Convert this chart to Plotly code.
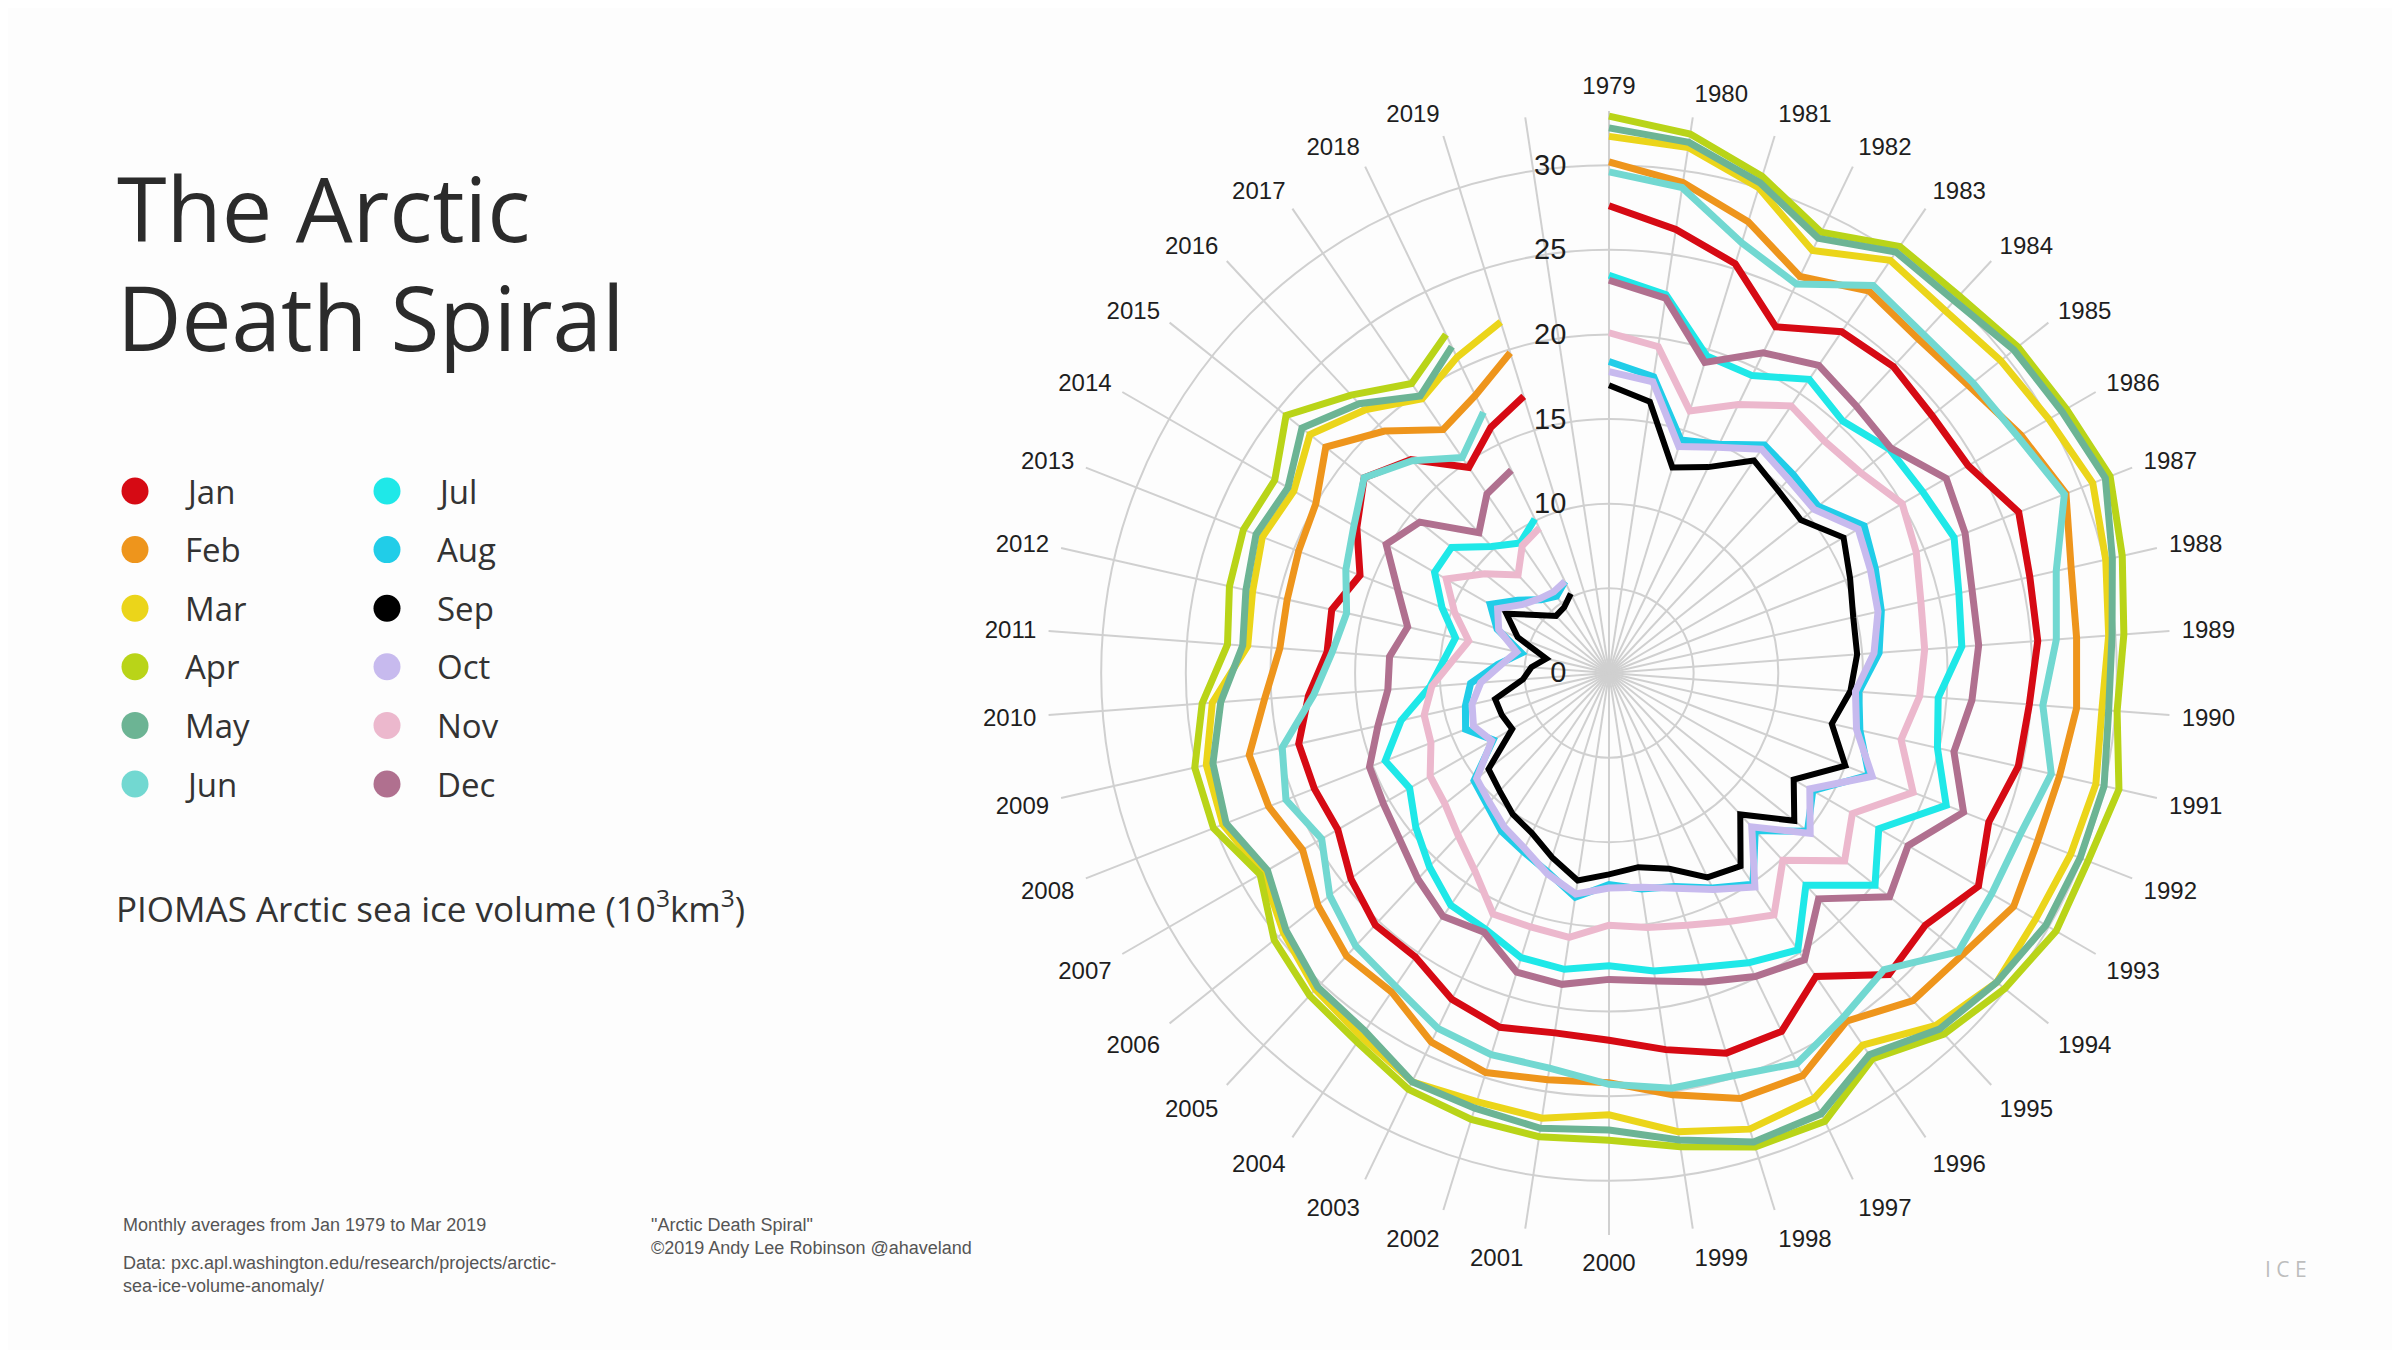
import plotly.graph_objects as go

# PIOMAS Arctic sea ice volume, monthly averages (10^3 km^3)
years = list(range(1979, 2020))

jan = [27.6, 26.5, 25.3, 22.7, 24.4, 24.7, 24.4, 24.5, 26.0, 25.5,
       25.4, 24.9, 24.8, 24.1, 25.2, 23.9, 24.3, 21.7, 23.5, 23.5,
       22.5, 21.7, 21.5, 21.9, 21.4, 20.3, 20.3, 19.5, 18.5, 18.7,
       18.8, 17.8, 16.7, 16.8, 15.8, 17.2, 18.5, 17.2, 14.7, 16.1,
       17.1]
feb = [30.2, 29.3, 27.9, 26.0, 27.3, 26.9, 27.2, 28.1, 29.0, 28.0,
       27.7, 27.7, 27.3, 27.2, 27.6, 26.7, 26.4, 24.9, 26.4, 26.3,
       25.2, 24.2, 24.3, 24.7, 24.2, 22.8, 22.8, 22.0, 20.9, 21.6,
       21.8, 20.4, 19.5, 19.5, 19.7, 20.0, 21.4, 19.5, 17.4, 18.2,
       19.8]
mar = [31.7, 31.4, 30.0, 27.7, 29.5, 29.2, 29.6, 30.0, 30.7, 30.1,
       29.6, 29.2, 29.5, 29.3, 29.1, 29.3, 28.4, 26.6, 27.9, 28.2,
       27.4, 26.1, 26.6, 26.5, 26.8, 26.0, 25.5, 24.6, 23.6, 24.5,
       24.4, 23.5, 21.4, 21.6, 22.0, 21.5, 22.6, 21.2, 19.6, 20.7,
       21.7]
apr = [32.9, 32.2, 30.7, 28.9, 30.5, 30.4, 30.9, 31.2, 31.8, 31.1,
       30.5, 30.1, 30.9, 30.4, 30.5, 29.9, 29.1, 27.6, 29.4, 29.3,
       28.3, 27.6, 27.7, 27.6, 27.3, 26.4, 26.0, 25.3, 23.8, 25.1,
       25.1, 24.1, 22.6, 23.0, 23.2, 22.8, 24.4, 22.4, 20.7, 22.2]
may = [32.2, 31.7, 30.3, 28.5, 30.1, 30.0, 30.6, 30.9, 31.5, 30.5,
       29.8, 29.6, 30.0, 29.9, 29.8, 29.3, 28.7, 27.3, 28.9, 29.0,
       27.9, 27.0, 27.2, 26.9, 26.8, 25.6, 25.3, 24.4, 23.3, 24.3,
       24.0, 23.0, 21.7, 22.0, 22.4, 21.9, 23.2, 21.7, 19.8, 21.4]
jun = [29.6, 29.0, 26.6, 25.5, 27.7, 27.3, 27.5, 27.9, 28.9, 27.1,
       26.5, 25.7, 26.8, 26.1, 26.1, 26.4, 23.9, 24.6, 25.6, 24.9,
       24.8, 24.3, 23.6, 23.6, 23.3, 22.4, 22.0, 21.1, 19.6, 20.5,
       19.8, 17.5, 16.4, 15.9, 16.7, 17.4, 18.5, 17.1, 15.4, 17.1]
jul = [23.5, 22.6, 19.6, 19.5, 21.0, 20.3, 21.2, 21.4, 21.9, 21.2,
       20.9, 19.5, 19.9, 21.4, 18.4, 20.1, 17.1, 19.8, 19.0, 18.2,
       17.8, 17.3, 17.7, 17.6, 16.8, 16.6, 15.6, 14.6, 13.6, 14.2,
       12.6, 10.6, 9.8, 9.3, 10.6, 11.9, 11.9, 10.2, 9.3, 10.1]
aug = [18.4, 17.7, 14.4, 15.0, 16.3, 16.0, 15.8, 17.4, 16.9, 16.5,
       16.0, 14.8, 15.2, 16.5, 13.9, 15.0, 12.7, 15.1, 14.1, 13.2,
       12.9, 12.5, 13.4, 12.3, 11.7, 11.3, 10.6, 10.2, 7.9, 9.1,
       8.7, 8.2, 6.6, 5.3, 7.1, 8.1, 6.9, 5.9, 5.5, 6.0]
sep = [17.0, 16.2, 12.7, 13.5, 15.2, 14.7, 14.5, 16.0, 15.3, 14.8,
       14.7, 14.3, 13.5, 15.0, 12.6, 14.0, 11.4, 13.8, 13.4, 12.1,
       11.6, 11.9, 12.4, 11.4, 10.5, 10.1, 9.5, 9.1, 6.6, 6.8,
       6.9, 5.1, 4.6, 3.8, 5.8, 7.0, 5.5, 4.6, 4.7, 5.2]
oct = [17.8, 17.4, 14.0, 14.8, 16.0, 15.6, 15.5, 17.0, 16.6, 16.3,
       15.7, 14.6, 15.0, 16.7, 13.7, 15.2, 12.4, 15.3, 14.2, 13.3,
       12.8, 12.7, 13.2, 12.4, 11.5, 11.0, 10.4, 10.0, 8.0, 8.6,
       8.3, 7.6, 6.4, 5.6, 7.0, 7.6, 6.5, 6.0, 5.8, 6.0]
nov = [20.1, 19.5, 16.2, 17.6, 19.1, 18.7, 19.0, 20.0, 19.5, 18.9,
       18.7, 18.4, 17.7, 19.3, 16.6, 17.8, 15.1, 17.3, 16.3, 15.6,
       15.2, 14.9, 15.8, 15.7, 15.8, 14.1, 13.1, 12.4, 12.2, 11.3,
       11.2, 10.5, 9.3, 8.5, 9.8, 11.1, 9.4, 7.9, 9.1, 9.5]
dec = [23.2, 22.4, 19.2, 21.0, 22.0, 21.5, 21.3, 23.0, 22.6, 22.0,
       21.9, 21.5, 20.9, 22.5, 20.4, 21.2, 18.2, 20.5, 19.9, 19.1,
       18.4, 18.1, 18.6, 18.5, 17.0, 17.4, 16.6, 15.8, 15.4, 15.2,
       14.0, 13.1, 13.0, 12.2, 13.4, 15.2, 14.3, 11.3, 12.8, 13.3]

months = ['Jan', 'Feb', 'Mar', 'Apr', 'May', 'Jun',
          'Jul', 'Aug', 'Sep', 'Oct', 'Nov', 'Dec']
series = [jan, feb, mar, apr, may, jun, jul, aug, sep, oct, nov, dec]
colors = ['#d60a14', '#ee951c', '#ebd51a', '#b9d418', '#6cb494', '#72d8d1',
          '#1fe8e8', '#21cde8', '#000000', '#c7baee', '#ecb8cd', '#b0708f']

# the page body has an 8px margin, so the figure is a bit smaller than the window
OFF = 8
W, H = 2400 - OFF, 1350 - OFF
slot = 360 / (len(years) + 1)   # one empty slot between 2019 and 1979
r_max = 33.2

fig = go.Figure()

for name, vals, col in zip(months, series, colors):
    fig.add_trace(go.Scatterpolar(
        r=vals,
        theta=[i * slot for i in range(len(vals))],
        mode='lines',
        name=name,
        line=dict(color=col, width=7 if name != 'Sep' else 6),
        showlegend=False,
    ))


def px_x(x):
    return (x - OFF) / W


def px_y(y):
    return 1 - (y - OFF) / H


# polar area placed so that the centre sits at (1609, 673) on the page
cx, cy, rad = 1609, 673, 562
fig.update_layout(
    polar=dict(
        domain=dict(x=[px_x(cx - rad), px_x(cx + rad)],
                    y=[px_y(cy + rad), px_y(cy - rad)]),
        bgcolor='rgba(0,0,0,0)',
        angularaxis=dict(
            rotation=90,
            direction='clockwise',
            thetaunit='degrees',
            tickmode='array',
            tickvals=[i * slot for i in range(len(years) + 1)],
            ticktext=[str(y) for y in years] + [''],
            showline=False,
            ticks='outside',
            ticklen=7,
            tickcolor='rgba(0,0,0,0)',
            gridcolor='#d0d0d0',
            gridwidth=1.5,
            tickfont=dict(family='Liberation Sans', size=24, color='#1e1e1e'),
        ),
        radialaxis=dict(
            range=[0, r_max],
            angle=90,
            side='counterclockwise',
            tickmode='array',
            tickvals=[0, 5, 10, 15, 20, 25, 30],
            ticktext=['0', '', '10', '15', '20', '25', '30'],
            showline=False,
            ticks='outside',
            ticklen=32,
            tickcolor='rgba(0,0,0,0)',
            gridcolor='#d0d0d0',
            gridwidth=1.5,
            tickfont=dict(family='Liberation Sans', size=29, color='#1e1e1e'),
            tickangle=90,
        ),
    ),
)

annotations = []
shapes = []
text_font = 'Open Sans'

# title
annotations.append(dict(x=px_x(115), y=px_y(207), xref='paper', yref='paper',
                        text='The Arctic', showarrow=False, xanchor='left', yanchor='middle',
                        font=dict(family=text_font, size=90, color='#2b2b2b')))
annotations.append(dict(x=px_x(115), y=px_y(316), xref='paper', yref='paper',
                        text='Death Spiral', showarrow=False, xanchor='left', yanchor='middle',
                        font=dict(family=text_font, size=89, color='#2b2b2b')))

# two-column legend with round dots
row0, row_gap, dot_d = 491, 58.6, 27
for i, (name, col) in enumerate(zip(months, colors)):
    column, row = divmod(i, 6)
    dx = 135 + column * 252
    dy = row0 + row * row_gap
    shapes.append(dict(type='circle', xref='paper', yref='paper',
                       x0=px_x(dx - dot_d / 2), x1=px_x(dx + dot_d / 2),
                       y0=px_y(dy + dot_d / 2), y1=px_y(dy - dot_d / 2),
                       fillcolor=col, line=dict(width=0)))
    annotations.append(dict(x=px_x(dx + 48), y=px_y(dy), xref='paper', yref='paper',
                            text=name, showarrow=False, xanchor='left', yanchor='middle',
                            font=dict(family=text_font, size=33, color='#333333')))

annotations.append(dict(x=px_x(114), y=px_y(906), xref='paper', yref='paper',
                        text='PIOMAS Arctic sea ice volume (10<sup>3</sup>km<sup>3</sup>)',
                        showarrow=False, xanchor='left', yanchor='middle',
                        font=dict(family=text_font, size=35, color='#333333')))

# footnotes
foot = dict(family='Liberation Sans', size=18, color='#555555')
annotations.append(dict(x=px_x(121), y=px_y(1225), xref='paper', yref='paper',
                        text='Monthly averages from Jan 1979 to Mar 2019',
                        showarrow=False, xanchor='left', yanchor='middle', font=foot))
annotations.append(dict(x=px_x(121), y=px_y(1274), xref='paper', yref='paper',
                        text='Data: pxc.apl.washington.edu/research/projects/arctic-<br>sea-ice-volume-anomaly/',
                        showarrow=False, xanchor='left', yanchor='middle', align='left', font=foot))
annotations.append(dict(x=px_x(649), y=px_y(1236), xref='paper', yref='paper',
                        text='"Arctic Death Spiral"<br>©2019 Andy Lee Robinson @ahaveland',
                        showarrow=False, xanchor='left', yanchor='middle', align='left', font=foot))
annotations.append(dict(x=px_x(2286), y=px_y(1269), xref='paper', yref='paper',
                        text='I C E', showarrow=False, xanchor='center', yanchor='middle',
                        font=dict(family=text_font, size=21, color='#bdbdbd')))

fig.update_layout(
    width=W, height=H,
    margin=dict(l=0, r=0, t=0, b=0),
    paper_bgcolor='#fdfdfd',
    plot_bgcolor='#fdfdfd',
    showlegend=False,
    annotations=annotations,
    shapes=shapes,
)

fig.write_html('out.html')
